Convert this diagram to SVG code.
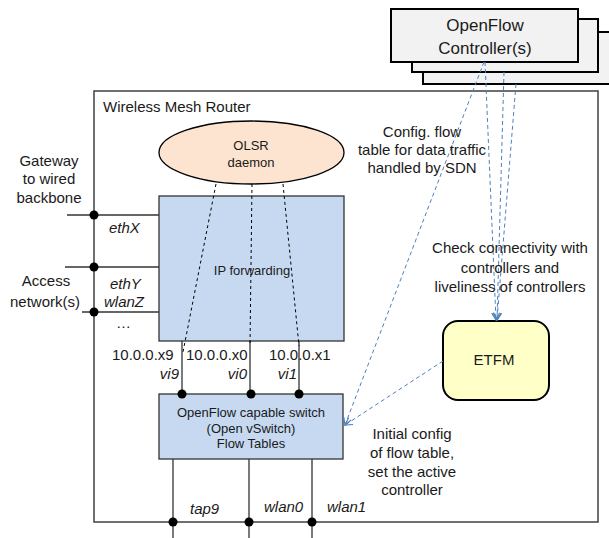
<svg xmlns="http://www.w3.org/2000/svg" width="609" height="538" viewBox="0 0 609 538">
<style>
text{font-family:"Liberation Sans",Arial,sans-serif;fill:#1a1a1a}
.l15{font-size:15px}
.l17{font-size:17px}
.s13{font-size:13px}
.it{font-style:italic}
.mid{text-anchor:middle}
.wire{stroke:#333;stroke-width:1.3;fill:none}
.blk{stroke:#000;stroke-width:1;stroke-dasharray:3,3;fill:none}
.blue{stroke:#4F81BD;stroke-width:1;stroke-dasharray:4,3;fill:none}
.dot{fill:#000}
.ctl{fill:#F2F2F2;stroke:#000;stroke-width:2}
</style>
<defs>
<marker id="arr" markerWidth="10" markerHeight="10" refX="8" refY="5" orient="auto" markerUnits="userSpaceOnUse">
<path d="M1,1 L8,5 L1,9" fill="none" stroke="#4F81BD" stroke-width="1.2"/>
</marker>
</defs>

<g id="router">
<rect x="94" y="91" width="504" height="431" fill="#fff" stroke="#404040" stroke-width="1.5"/>
<text class="l15" x="103" y="112">Wireless Mesh Router</text>
</g>

<g id="controllers">
<rect class="ctl" x="423" y="32" width="190" height="52"/>
<rect class="ctl" x="412" y="19" width="186" height="53"/>
<rect class="ctl" x="391" y="9" width="187" height="53"/>
<text class="l17 mid" x="485" y="31">OpenFlow</text>
<text class="l17 mid" x="485" y="54">Controller(s)</text>
</g>

<g id="olsr">
<ellipse cx="251.5" cy="152.5" rx="92.5" ry="31.5" fill="#FCE4D0" stroke="#000" stroke-width="1.3"/>
<text class="s13 mid" x="251" y="150">OLSR</text>
<text class="s13 mid" x="251" y="167">daemon</text>
</g>

<g id="ipfwd">
<rect x="159" y="196" width="185" height="145" fill="#C6D9F1" stroke="#333" stroke-width="1.3"/>
<text class="s13 mid" x="252" y="275">IP forwarding</text>
</g>

<g id="switch">
<rect x="159" y="394" width="184" height="65" fill="#C6D9F1" stroke="#333" stroke-width="1.3"/>
<text class="s13 mid" x="251" y="417">OpenFlow capable switch</text>
<text class="s13 mid" x="251" y="433">(Open vSwitch)</text>
<text class="s13 mid" x="251" y="448">Flow Tables</text>
</g>

<g id="etfm">
<rect x="443" y="321" width="106" height="79" rx="15" ry="15" fill="#FFFFC8" stroke="#000" stroke-width="2"/>
<text class="l15 mid" x="494" y="365">ETFM</text>
</g>

<g id="connectors">
<line class="wire" x1="67" y1="215" x2="159" y2="215"/>
<line class="wire" x1="65" y1="267" x2="159" y2="267"/>
<line class="wire" x1="82" y1="312" x2="159" y2="312"/>
<circle class="dot" cx="94" cy="215" r="4.5"/>
<circle class="dot" cx="94" cy="267" r="4.5"/>
<circle class="dot" cx="94" cy="312" r="4.5"/>

<line class="wire" x1="182" y1="341" x2="182" y2="394"/>
<line class="wire" x1="250" y1="341" x2="250" y2="394"/>
<line class="wire" x1="299" y1="341" x2="299" y2="394"/>
<circle class="dot" cx="182" cy="394" r="4.5"/>
<circle class="dot" cx="251" cy="394" r="4.5"/>
<circle class="dot" cx="299" cy="394" r="4.5"/>

<line class="blk" x1="216" y1="184" x2="183" y2="352"/>
<line class="blk" x1="252" y1="184" x2="250" y2="346"/>
<line class="blk" x1="283" y1="184" x2="299" y2="346"/>

<line class="wire" x1="173" y1="459" x2="173" y2="538"/>
<line class="wire" x1="249" y1="459" x2="249" y2="538"/>
<line class="wire" x1="312" y1="459" x2="312" y2="538"/>
<circle class="dot" cx="173" cy="522" r="4.5"/>
<circle class="dot" cx="249" cy="522" r="4.5"/>
<circle class="dot" cx="312" cy="522" r="4.5"/>

<line class="blue" x1="484" y1="62" x2="345" y2="425" marker-end="url(#arr)"/>
<line class="blue" x1="443" y1="361" x2="345" y2="425" marker-end="url(#arr)"/>
<line class="blue" x1="485" y1="62" x2="496" y2="320" marker-end="url(#arr)"/>
<line class="blue" x1="504" y1="72" x2="497" y2="320" marker-end="url(#arr)"/>
<line class="blue" x1="516" y1="84" x2="497" y2="320" marker-end="url(#arr)"/>
</g>

<g id="labels">
<text class="l15 mid" x="49" y="166">Gateway</text>
<text class="l15 mid" x="49" y="184">to wired</text>
<text class="l15 mid" x="49" y="203">backbone</text>
<text class="l15 mid" x="46" y="286">Access</text>
<text class="l15 mid" x="45" y="307">network(s)</text>
<text class="l15 it" x="109" y="233">ethX</text>
<text class="l15 it" x="110" y="289">ethY</text>
<text class="l15 it" x="104" y="307">wlanZ</text>
<text class="l15" x="116" y="328">…</text>

<text class="l15" x="112" y="360">10.0.0.x9</text>
<text class="l15" x="186" y="360">10.0.0.x0</text>
<text class="l15" x="269" y="360">10.0.0.x1</text>
<text class="l15 it" x="179" y="379" text-anchor="end">vi9</text>
<text class="l15 it" x="247" y="379" text-anchor="end">vi0</text>
<text class="l15 it" x="297" y="379" text-anchor="end">vi1</text>

<text class="l15 it" x="190" y="514">tap9</text>
<text class="l15 it" x="264" y="512">wlan0</text>
<text class="l15 it" x="327" y="512">wlan1</text>

<text class="l15 mid" x="422" y="137">Config. flow</text>
<text class="l15 mid" x="422" y="155">table for data traffic</text>
<text class="l15 mid" x="422" y="173">handled by SDN</text>

<text class="l15 mid" x="510" y="253">Check connectivity with</text>
<text class="l15 mid" x="510" y="273">controllers and</text>
<text class="l15 mid" x="510" y="292">liveliness of controllers</text>

<text class="l15 mid" x="412" y="439">Initial config</text>
<text class="l15 mid" x="412" y="458">of flow table,</text>
<text class="l15 mid" x="412" y="477">set the active</text>
<text class="l15 mid" x="412" y="495">controller</text>
</g>
</svg>
